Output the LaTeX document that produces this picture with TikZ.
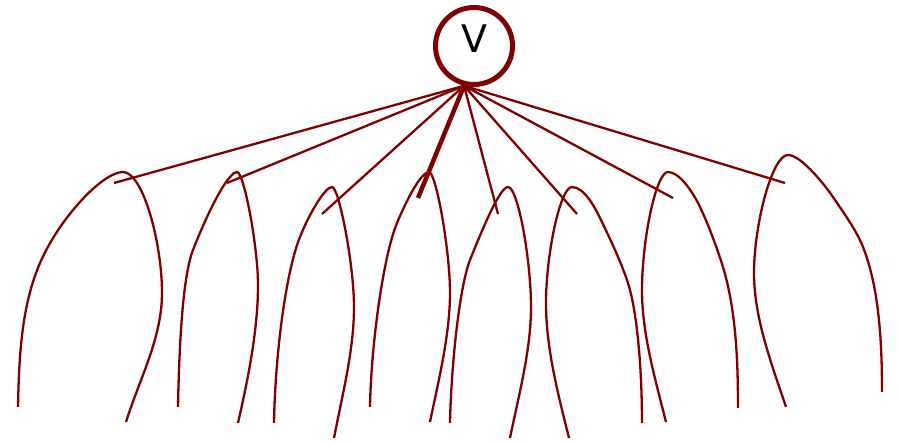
\documentclass[tikz,border=0pt]{standalone}
\usepackage{fontspec}
\setmainfont{DejaVu Sans}
\definecolor{maroon}{HTML}{800000}
\tikzset{
	root/.style={circle,draw=maroon,line width=5pt,minimum size=77pt,inner sep=0pt,
		font=\fontsize{38}{38}\selectfont,text height=27.7pt,text depth=14pt},
	edge/.style={maroon,line width=2.3pt},
	arch/.style={maroon,line width=2.3pt}
}
\begin{document}
\begin{tikzpicture}[x=1pt,y=-1pt]
			\useasboundingbox (0,0) rectangle (898,443);
			\node[root] (v) at (474,46) {V};
			
			\coordinate (e1) at (114,183);
			\coordinate (e2) at (227,183);
			\coordinate (e3) at (322,214);
			\coordinate (e4) at (418,198);
			\coordinate (e5) at (498,214);
			\coordinate (e6) at (577,214);
			\coordinate (e7) at (673,198);
			\coordinate (e8) at (785,183);
			
			\draw[edge] (v.256)--(e1);
			\draw[edge] (v.256)--(e2);
			\draw[edge] (v.256)--(e3);
			\draw[edge,line width=4.5pt] (v.256)--(e4);
			\draw[edge] (v.256)--(e5);
			\draw[edge] (v.256)--(e6);
			\draw[edge] (v.256)--(e7);
			\draw[edge] (v.256)--(e8);
			
			% arches
			\draw[arch] (18,407) .. controls (19,359) and (21,307) .. (40,263) .. controls (60,217) and (103,172) .. (123,172)
				.. controls (143,172) and (162,243) .. (162,293) .. controls (162,338) and (139.5,379) .. (126,422);
			\draw[arch] (178,407) .. controls (179,354) and (182,278) .. (193,250) .. controls (213,199) and (230,172) .. (237,172)
				.. controls (244,172) and (258,247) .. (258,285) .. controls (258,330) and (248,379) .. (238,423);
			\draw[arch] (274,423) .. controls (275,360) and (285,274) .. (300,237) .. controls (309,214) and (325,187) .. (332,187)
				.. controls (339,187) and (354,265) .. (354,307) .. controls (354,350) and (342.5,394) .. (334,438);
			\draw[arch] (370,407) .. controls (371,345) and (383.5,255) .. (397,223) .. controls (406.6,200) and (421,172) .. (429,172)
				.. controls (436,172) and (450,250) .. (450,293) .. controls (450,335) and (438,383) .. (430,422);
			\draw[arch] (450,423) .. controls (451,370) and (459,288) .. (470,260) .. controls (483,227.5) and (500,187) .. (508,187)
				.. controls (518,187) and (531,260) .. (531,307) .. controls (531,350) and (519,394) .. (510,438);
			\draw[arch] (569,438) .. controls (558,394) and (546,348) .. (546,303) .. controls (546,255) and (560,187) .. (572,187)
				.. controls (584,187) and (594.7,207) .. (600,218) .. controls (611,240.5) and (625,270.6) .. (630,290)
				.. controls (638.75,324) and (642,380) .. (642,423);
			\draw[arch] (666,422) .. controls (655,378) and (642,334) .. (642,290) .. controls (642,240) and (656,172) .. (668,172)
				.. controls (680,172) and (694,194) .. (700,207) .. controls (708.6,225) and (717,248) .. (723,267)
				.. controls (736,310) and (738,361) .. (738,408);
			\draw[arch] (786,407) .. controls (771.6,364) and (754,318) .. (754,273) .. controls (754,225) and (772,155) .. (788,155)
				.. controls (800,155) and (821.6,180.6) .. (833,197) .. controls (843,212) and (856.3,230) .. (863,247)
				.. controls (879.6,289) and (882,345) .. (882,392);
		\end{tikzpicture}
\end{document}
